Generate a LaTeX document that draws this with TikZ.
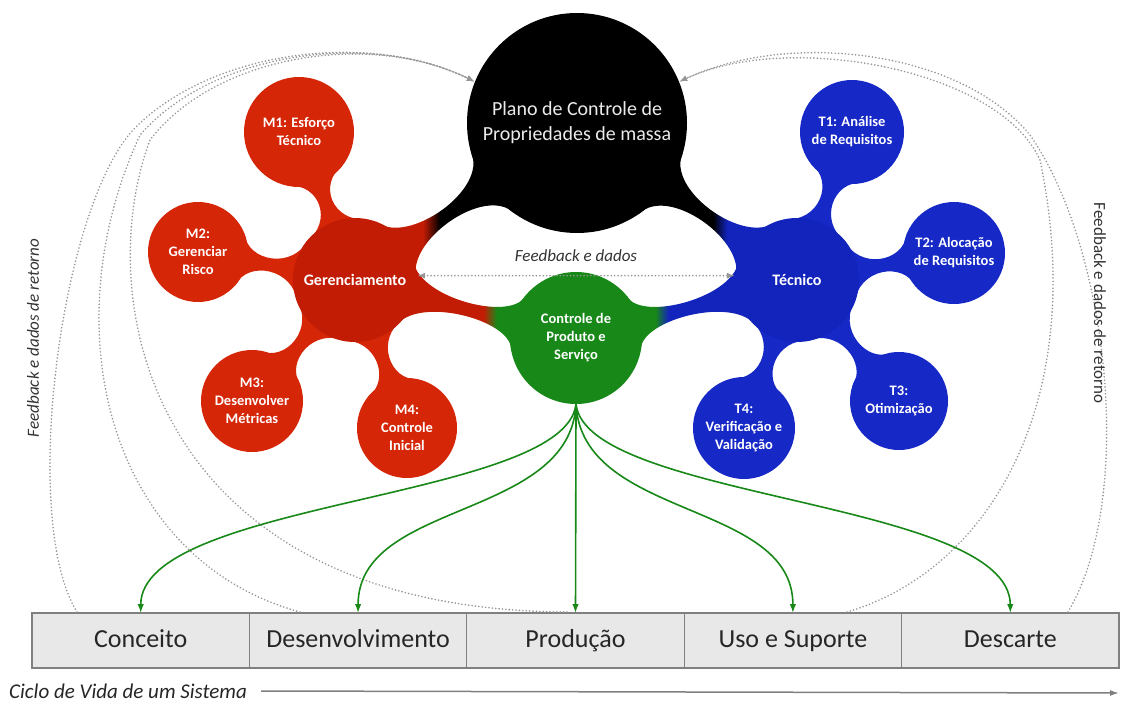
\documentclass[tikz,border=0pt]{standalone}
\usepackage{fontspec}
\setmainfont{Carlito}
\usepackage{tikz}
\usetikzlibrary{positioning, calc, arrows.meta, backgrounds}

\definecolor{mred}{RGB}{214,38,8}
\definecolor{gred}{RGB}{194,28,4}
\definecolor{mblue}{RGB}{22,40,198}
\definecolor{tblue}{RGB}{18,36,188}
\definecolor{cgreen}{RGB}{24,136,24}
\definecolor{fbgray}{RGB}{150,150,150}
\definecolor{boxgray}{RGB}{232,232,232}
\definecolor{boxline}{RGB}{128,128,128}

% sombreamentos das pontes entre bolhas de cores diferentes
\pgfdeclarehorizontalshading{gerplano}{100bp}{color(0bp)=(gred); color(42bp)=(gred); color(48bp)=(black); color(100bp)=(black)}
\pgfdeclarehorizontalshading{gerctrl}{100bp}{color(0bp)=(gred); color(59bp)=(gred); color(64bp)=(cgreen); color(100bp)=(cgreen)}
\pgfdeclarehorizontalshading{planotec}{100bp}{color(0bp)=(black); color(52bp)=(black); color(57bp)=(tblue); color(100bp)=(tblue)}
\pgfdeclarehorizontalshading{ctrltec}{100bp}{color(0bp)=(cgreen); color(36bp)=(cgreen); color(41bp)=(tblue); color(100bp)=(tblue)}

% ponte entre duas bolhas: #1 estilo, #2 e #3 nos, #4 e #5 raios, #6 e #7 angulos, #8 afastamento
\newcommand{\bridge}[8]{%
  \coordinate (bA) at ($(#2.center)!#4!(#3.center)$);
  \coordinate (bB) at ($(#3.center)!#5!(#2.center)$);
  \path[#1] ($(#2.center)!#4!#6:(#3.center)$)
      .. controls ($(bA)!#8!90:(#3.center)$) and ($(bB)!#8!-90:(#2.center)$) .. ($(#3.center)!#5!-#7:(#2.center)$)
      -- ($(#3.center)!#5!#7:(#2.center)$)
      .. controls ($(bB)!#8!90:(#2.center)$) and ($(bA)!#8!-90:(#3.center)$) .. ($(#2.center)!#4!-#6:(#3.center)$)
      -- cycle;}

\begin{document}
\begin{tikzpicture}[x=1pt, y=1pt,
    bubble/.style={circle, inner sep=0pt, text=white, align=center, font=\bfseries\fontsize{14.5}{18}\selectfont},
    mbubble/.style={bubble, fill=mred},
    tbubble/.style={bubble, fill=mblue},
    stage/.style={draw=boxline, line width=1.3pt, fill=boxgray, minimum width=217.4pt, minimum height=55pt,
                  inner sep=0pt, outer sep=0pt, text height=19pt, text depth=6pt, text=black!85,
                  font=\fontsize{26}{30}\selectfont},
    fbline/.style={draw=fbgray, line width=1.8pt, line cap=round, dash pattern=on 0pt off 3.4pt,
                   >={Latex[length=8pt,width=6pt]}},
    prodarrow/.style={draw=cgreen, line width=1.6pt, -{Latex[length=9pt,width=6.5pt]}}]
    \useasboundingbox (0,0) rectangle (1137,-704);

    % bolha central
    \node[circle, fill=black, minimum size=220pt, inner sep=0pt, text=white!92!black, align=center,
          font=\fontsize{20}{25}\selectfont] (plano) at (577,-123) {Plano de Controle de\\Propriedades de massa};

    % gerenciamento e seus ramos
    \node[bubble, fill=gred, minimum size=124pt, font=\bfseries\fontsize{16}{19}\selectfont] (ger) at (355,-280) {Gerenciamento};
    \node[mbubble, minimum size=110pt] (m1) at (299,-132) {M1: Esforço\\Técnico};
    \node[mbubble, minimum size=100pt] (m2) at (198,-252) {M2:\\Gerenciar\\Risco};
    \node[mbubble, minimum size=102pt] (m3) at (252,-401) {M3:\\Desenvolver\\Métricas};
    \node[mbubble, minimum size=100pt] (m4) at (407,-428) {M4:\\Controle\\Inicial};

    % tecnico e seus ramos
    \node[bubble, fill=tblue, minimum size=124pt, font=\bfseries\fontsize{16}{19}\selectfont] (tec) at (797,-280) {Técnico};
    \node[tbubble, minimum size=104pt] (t1) at (852,-132) {T1: Análise\\de Requisitos};
    \node[tbubble, minimum size=102pt] (t2) at (954,-253) {T2: Alocação\\de Requisitos};
    \node[tbubble, minimum size=98pt] (t3) at (899,-401) {T3:\\Otimização};
    \node[tbubble, minimum size=102pt] (t4) at (744,-428) {T4:\\Verificação e\\Validação};

    % controle de produto
    \node[bubble, fill=cgreen, minimum size=132pt] (ctrl) at (576,-338) {Controle de\\Produto e\\Serviço};

    % pontes
    \begin{scope}[on background layer]
        \bridge{fill=mred}{ger}{m1}{62pt}{55pt}{32}{32}{-1pt}
        \bridge{fill=mred}{ger}{m2}{62pt}{50pt}{32}{32}{-1pt}
        \bridge{fill=mred}{ger}{m3}{62pt}{51pt}{32}{32}{-1pt}
        \bridge{fill=mred}{ger}{m4}{62pt}{50pt}{32}{32}{-1pt}
        \bridge{fill=mblue}{tec}{t1}{62pt}{52pt}{32}{32}{-1pt}
        \bridge{fill=mblue}{tec}{t2}{62pt}{51pt}{32}{32}{-1pt}
        \bridge{fill=mblue}{tec}{t3}{62pt}{49pt}{32}{32}{-1pt}
        \bridge{fill=mblue}{tec}{t4}{62pt}{51pt}{32}{32}{-1pt}
        \bridge{shade, shading=gerplano}{ger}{plano}{62pt}{110pt}{35}{20}{-3pt}
        \bridge{shade, shading=planotec}{tec}{plano}{62pt}{110pt}{35}{20}{-3pt}
        \bridge{shade, shading=gerctrl}{ger}{ctrl}{62pt}{66pt}{35}{25}{-1.5pt}
        \bridge{shade, shading=ctrltec}{tec}{ctrl}{62pt}{66pt}{35}{25}{-1.5pt}
    \end{scope}

    % ciclo de vida
    \node[stage] (conceito) at (140.7,-640.5) {Conceito};
    \node[stage, right=0pt of conceito] (desenv) {Desenvolvimento};
    \node[stage, right=0pt of desenv] (producao) {Produção};
    \node[stage, right=0pt of producao] (uso) {Uso e Suporte};
    \node[stage, right=0pt of uso] (descarte) {Descarte};

    \node[anchor=west, inner sep=0pt, text=black!85, font=\itshape\fontsize{21}{24}\selectfont] (ciclo) at (9,-691) {Ciclo de Vida de um Sistema};
    \coordinate (fimCiclo) at (1119,-693);
    \draw[draw=boxline, line width=1.5pt, -{Latex[length=9pt,width=6pt]}] ([xshift=14pt]ciclo.east) -- (fimCiclo);

    % feedback entre gerenciamento e tecnico
    \draw[fbline, <->] (ger.4) -- node[midway, above=10pt, text=black!80, font=\itshape\fontsize{17}{20}\selectfont] (fbmeio) {Feedback e dados} (tec.176);

    % feedback de retorno (linhas pontilhadas)
    \coordinate (fbL1) at (77,-612);
    \coordinate (fbL2) at (300,-612);
    \coordinate (fbL3) at (567,-612);
    \coordinate (fbR1) at (1068,-612);
    \coordinate (fbR2) at (847,-612);
    \draw[fbline, ->] (fbL1) .. controls (20,-520) and (60,-210) .. (133,-130) .. controls (210,-50) and (370,-30) .. (plano.158);
    \draw[fbline, ->] (fbL2) .. controls (110,-560) and (50,-330) .. (140,-135) .. controls (212,-52) and (370,-30) .. (plano.158);
    \draw[fbline, ->] (fbL3) .. controls (150,-610) and (90,-300) .. (150,-140) .. controls (215,-55) and (370,-30) .. (plano.158);
    \draw[fbline, ->] (fbR1) .. controls (1135,-500) and (1110,-250) .. (1030,-135) .. controls (960,-50) and (790,-30) .. (plano.22);
    \draw[fbline, ->] (fbR2) .. controls (990,-570) and (1090,-400) .. (1040,-160) .. controls (1000,-70) and (790,-30) .. (plano.22);

    \node[rotate=90, text=black!80, font=\itshape\fontsize{17}{20}\selectfont] (fbesq) at (33,-338) {Feedback e dados de retorno};
    \node[rotate=-90, text=black!80, font=\fontsize{17}{20}\selectfont] (fbdir) at (1100,-303) {Feedback e dados de retorno};

    % setas verdes para as fases
    \draw[prodarrow] (ctrl.south) .. controls (565,-500) and (141,-500) .. (conceito.north);
    \draw[prodarrow] (ctrl.south) .. controls (570,-520) and (358,-500) .. (desenv.north);
    \draw[prodarrow] (ctrl.south) -- (producao.north);
    \draw[prodarrow] (ctrl.south) .. controls (582,-520) and (793,-500) .. (uso.north);
    \draw[prodarrow] (ctrl.south) .. controls (587,-500) and (1010,-500) .. (descarte.north);

\end{tikzpicture}
\end{document}
